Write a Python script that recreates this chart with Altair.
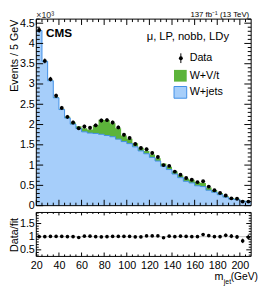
import altair as alt
import pandas as pd

FONT = "Liberation Sans"
BLUE_FILL = "#a6cefa"
BLUE_LINE = "#3f8ee6"
GREEN = "#5cb43a"

# ---- data (events / 5 GeV, in units of 10^3) ----
bin_lo = list(range(20, 210, 5))   # 5 GeV bins from 20 to 210 GeV
x_max = 210

data_counts = [4.33, 3.57, 3.12, 2.71, 2.41, 2.19, 2.05, 1.91, 1.95, 1.92,
               1.98, 2.10, 2.11, 2.05, 1.93, 1.75, 1.67, 1.52, 1.42, 1.39,
               1.30, 1.20, 1.00, 0.98, 0.84, 0.76, 0.68, 0.64, 0.58, 0.60,
               0.47, 0.38, 0.31, 0.25, 0.18, 0.17, 0.10, 0.10]
wjets = [4.32, 3.56, 3.08, 2.66, 2.37, 2.16, 2.01, 1.90, 1.82, 1.79,
         1.78, 1.76, 1.73, 1.70, 1.64, 1.58, 1.53, 1.45, 1.35, 1.28,
         1.19, 1.10, 0.97, 0.89, 0.78, 0.69, 0.60, 0.56, 0.49, 0.47,
         0.38, 0.33, 0.27, 0.21, 0.16, 0.15, 0.11, 0.09]
wvt = [0.01, 0.01, 0.01, 0.02, 0.02, 0.03, 0.04, 0.06, 0.09, 0.09,
       0.20, 0.36, 0.38, 0.33, 0.27, 0.15, 0.12, 0.09, 0.08, 0.07,
       0.07, 0.07, 0.07, 0.07, 0.06, 0.06, 0.07, 0.08, 0.09, 0.09,
       0.07, 0.05, 0.04, 0.03, 0.02, 0.02, 0.01, 0.01]
ratio = [1.00, 1.00, 1.01, 1.01, 1.01, 1.00, 1.00, 0.97, 1.02, 1.02,
         1.00, 0.99, 1.00, 1.01, 1.01, 1.01, 1.01, 0.99, 0.99, 1.03,
         1.03, 1.03, 0.96, 1.02, 1.00, 1.02, 1.01, 1.00, 1.00, 1.08,
         1.04, 1.00, 1.00, 1.05, 1.02, 0.99, 0.84, 0.98]

# ---- tick positions ----
x_major = [20, 40, 60, 80, 100, 120, 140, 160, 180, 200]
x_minor = [v for v in range(25, 210, 5) if v % 20 != 0]
ym_major = [0, 0.5, 1, 1.5, 2, 2.5, 3, 3.5, 4, 4.5]
ym_minor = [round(i / 10, 1) for i in range(1, 47) if i % 5 != 0]
yr_major = [0.5, 1, 1.5]
yr_minor = [round(i / 10, 1) for i in range(3, 20) if i % 5 != 0]

W, H = 220, 243
MB = 191            # bottom of main panel
RT, RB = 198, 243   # ratio panel top / bottom

hist = pd.DataFrame({
    "edge": bin_lo + [x_max],
    "wj": wjets + [wjets[-1]],
    "tot": [a + b for a, b in zip(wjets, wvt)] + [wjets[-1] + wvt[-1]],
})
pts = pd.DataFrame({"center": [b + 2.5 for b in bin_lo], "data": data_counts, "ratio": ratio})
one = pd.DataFrame({"a": [0]})

xscale = alt.Scale(domain=[20, 210], nice=False, zero=False)
ymain = alt.Scale(domain=[0, 4.6], range=[MB, 0], nice=False, zero=False)
yrat = alt.Scale(domain=[0.25, 1.92], range=[RB, RT], nice=False, zero=False)

x_axis = alt.Axis(values=x_major, format="d", title=None, labelFont=FONT, labelFontSize=11,
                  labelColor="black", labelPadding=3, ticks=False, domain=False, grid=False,
                  labelFlush=False, labelOverlap=False, orient="bottom")
ym_axis = alt.Axis(values=ym_major, format="~g", title="Events / 5 GeV", titleFont=FONT,
                   titleFontSize=11, titleFontWeight="normal", titleColor="black",
                   titleAngle=270, titleAlign="right", titleBaseline="alphabetic",
                   titleX=-19, titleY=0, labelFont=FONT, labelFontSize=11, labelColor="black",
                   labelPadding=2, ticks=False, domain=False, grid=False, labelFlush=False,
                   labelOverlap=False, orient="left")
yr_axis = alt.Axis(values=yr_major, format="~g", title="Data/fit", titleFont=FONT,
                   titleFontSize=11, titleFontWeight="normal", titleColor="black",
                   titleAngle=270, titleAlign="center", titleBaseline="alphabetic",
                   titleX=-19, titleY=(RT + RB) / 2, labelFont=FONT, labelFontSize=11,
                   labelColor="black", labelPadding=2, ticks=False, domain=False, grid=False,
                   labelFlush=False, labelOverlap=False, orient="left")


def X(f):
    return alt.X(f, type="quantitative", scale=xscale, axis=x_axis)


def YM(f):
    return alt.Y(f, type="quantitative", scale=ymain, axis=ym_axis)


def YR(f):
    return alt.Y(f, type="quantitative", scale=yrat, axis=yr_axis)


def vals(v):
    return pd.DataFrame({"v": v})


def rule():
    return dict(color="black", strokeWidth=1)


# ---- main panel ----
blue = alt.Chart(hist).mark_area(interpolate="step-after", color=BLUE_FILL).encode(x=X("edge"), y=YM("wj"))
green = alt.Chart(hist).mark_area(interpolate="step-after", color=GREEN).encode(
    x=X("edge"), y=YM("tot"), y2=alt.Y2("wj"))
bline = alt.Chart(hist).mark_line(interpolate="step-after", color=BLUE_LINE, strokeWidth=1).encode(
    x=X("edge"), y=YM("wj"))
derr = alt.Chart(pts).transform_calculate(
    lo="datum.data - sqrt(datum.data*1000)/1000", hi="datum.data + sqrt(datum.data*1000)/1000"
).mark_rule(**rule()).encode(x=X("center"), y=YM("lo"), y2=alt.Y2("hi"))
dpts = alt.Chart(pts).mark_circle(size=16, color="black", opacity=1).encode(x=X("center"), y=YM("data"))

mframe = alt.Chart(one).mark_rect(fillOpacity=0, stroke="black", strokeWidth=1).encode(
    x=alt.value(0), x2=alt.value(W), y=alt.value(0), y2=alt.value(MB))

mticks = [
    alt.Chart(vals(ym_major)).mark_rule(**rule()).encode(y=YM("v"), x=alt.value(0), x2=alt.value(7)),
    alt.Chart(vals(ym_minor)).mark_rule(**rule()).encode(y=YM("v"), x=alt.value(0), x2=alt.value(3.5)),
    alt.Chart(vals(ym_major)).mark_rule(**rule()).encode(y=YM("v"), x=alt.value(W), x2=alt.value(W - 7)),
    alt.Chart(vals(ym_minor)).mark_rule(**rule()).encode(y=YM("v"), x=alt.value(W), x2=alt.value(W - 3.5)),
    alt.Chart(vals(x_major)).mark_rule(**rule()).encode(x=X("v"), y=alt.value(MB), y2=alt.value(MB - 6)),
    alt.Chart(vals(x_minor)).mark_rule(**rule()).encode(x=X("v"), y=alt.value(MB), y2=alt.value(MB - 3)),
    alt.Chart(vals(x_major)).mark_rule(**rule()).encode(x=X("v"), y=alt.value(0), y2=alt.value(6)),
    alt.Chart(vals(x_minor)).mark_rule(**rule()).encode(x=X("v"), y=alt.value(0), y2=alt.value(3)),
]

main = alt.layer(blue, green, bline, mframe, *mticks, derr, dpts)

# ---- ratio panel ----
ref = alt.Chart(vals([1.0])).mark_rule(color="#c0c0c0", strokeWidth=1).encode(
    y=YR("v"), x=alt.value(0), x2=alt.value(W))
rerr = alt.Chart(pts).transform_calculate(
    e="datum.ratio / sqrt(datum.data*1000)"
).transform_calculate(lo="datum.ratio - datum.e", hi="datum.ratio + datum.e").mark_rule(**rule()).encode(
    x=X("center"), y=YR("lo"), y2=alt.Y2("hi"))
rpts = alt.Chart(pts).mark_circle(size=14, color="black", opacity=1).encode(x=X("center"), y=YR("ratio"))
rframe = alt.Chart(one).mark_rect(fillOpacity=0, stroke="black", strokeWidth=1).encode(
    x=alt.value(0), x2=alt.value(W), y=alt.value(RT), y2=alt.value(RB))
rticks = [
    alt.Chart(vals(yr_major)).mark_rule(**rule()).encode(y=YR("v"), x=alt.value(0), x2=alt.value(5)),
    alt.Chart(vals(yr_minor)).mark_rule(**rule()).encode(y=YR("v"), x=alt.value(0), x2=alt.value(2.5)),
    alt.Chart(vals(yr_major)).mark_rule(**rule()).encode(y=YR("v"), x=alt.value(W), x2=alt.value(W - 5)),
    alt.Chart(vals(yr_minor)).mark_rule(**rule()).encode(y=YR("v"), x=alt.value(W), x2=alt.value(W - 2.5)),
    alt.Chart(vals(x_major)).mark_rule(**rule()).encode(x=X("v"), y=alt.value(RB), y2=alt.value(RB - 4)),
    alt.Chart(vals(x_minor)).mark_rule(**rule()).encode(x=X("v"), y=alt.value(RB), y2=alt.value(RB - 2)),
    alt.Chart(vals(x_major)).mark_rule(**rule()).encode(x=X("v"), y=alt.value(RT), y2=alt.value(RT + 3)),
    alt.Chart(vals(x_minor)).mark_rule(**rule()).encode(x=X("v"), y=alt.value(RT), y2=alt.value(RT + 1.5)),
]
ratio_layer = alt.layer(ref, rframe, *rticks, rerr, rpts)


# ---- annotations ----
def txt(s, x, y, size=11, align="left", baseline="alphabetic", weight="normal", color="black"):
    return alt.Chart(one).mark_text(text=s, font=FONT, fontSize=size, align=align, baseline=baseline,
                                    fontWeight=weight, color=color).encode(x=alt.value(x), y=alt.value(y))


annots = [
    txt("×10³", 0, -1, size=9, color="#333333"),
    txt("137 fb⁻¹ (13 TeV)", 218, -2, size=8, align="right"),
    txt("CMS", 10, 18, size=12, weight="bold"),
    txt("μ, LP, nobb, LDy", 113, 21, size=11.5),
    txt("Data", 157, 40, baseline="middle"),
    txt("W+V/t", 157, 58, baseline="middle"),
    txt("W+jets", 157, 75, baseline="middle"),
    txt("m", 182.5, 267),
    txt("jet", 192, 271.5, size=7),
    txt("(GeV)", 227, 267, size=10.5, align="right"),
    alt.Chart(one).mark_rect(color=GREEN).encode(
        x=alt.value(141), x2=alt.value(154), y=alt.value(52), y2=alt.value(64)),
    alt.Chart(one).mark_rect(color=BLUE_FILL, stroke=BLUE_LINE, strokeWidth=1).encode(
        x=alt.value(141), x2=alt.value(154), y=alt.value(69), y2=alt.value(81)),
    alt.Chart(one).mark_rule(**rule()).encode(x=alt.value(148), y=alt.value(35), y2=alt.value(45)),
    alt.Chart(one).mark_circle(size=16, color="black", opacity=1).encode(x=alt.value(148), y=alt.value(40)),
]

chart = alt.layer(main, ratio_layer, *annots).resolve_scale(y="independent").properties(
    width=W, height=H,
    autosize=alt.AutoSizeParams(type="none"),
    padding={"left": 29, "top": 8, "right": 7, "bottom": 31},
).configure_view(stroke=None)

chart.save("out.html", embed_options={"renderer": "svg", "actions": False})
